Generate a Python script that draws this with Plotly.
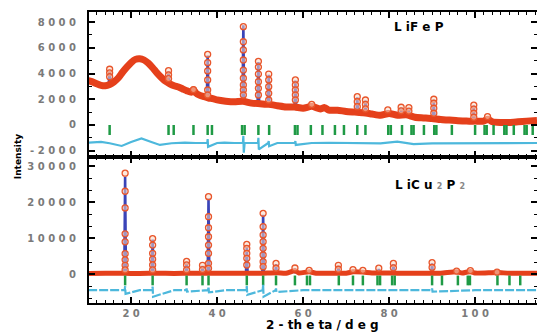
import plotly.graph_objects as go

# ---------------- data ----------------
# Upper panel (LiFeP): observed background band
top_bg_x = [10, 11, 12, 13, 14, 15, 16, 17, 18, 19, 20, 21, 22, 23, 24, 25, 26, 27, 28, 29,
            30, 31, 32, 33, 34, 34.5, 35, 36, 37, 38, 39, 40, 42, 44, 46, 48, 50, 52, 54, 56,
            58, 60, 62, 64, 65, 66, 68, 70, 72, 74, 76, 78, 80, 82, 84, 86, 88, 90, 92, 94,
            96, 98, 100, 102, 103, 104, 106, 108, 110, 112, 114.4]
top_bg_y = [3450, 3350, 3200, 3080, 3050, 3150, 3350, 3650, 4100, 4500, 4850, 5100, 5150, 5050, 4800, 4450, 4050, 3700, 3400, 3200,
            3050, 2950, 2800, 2650, 2550, 2750, 2500, 2300, 2200, 2100, 2050, 1950, 1850, 1800, 1850, 1700, 1650, 1600, 1500, 1400,
            1400, 1300, 1450, 1250, 1350, 1150, 1150, 1050, 1000, 950, 850, 750, 900, 750, 800, 600, 550, 500, 420, 380,
            330, 300, 300, 300, 450, 250, 200, 200, 250, 300, 350]

# Upper panel Bragg peaks: position, base, calculated top, observed points on the peak
top_pk_x = [15.0, 28.7, 34.5, 37.8, 46.1, 49.6, 52.0, 58.2, 62.0, 72.6, 74.5, 79.7, 82.8, 84.6, 90.4, 99.7, 102.9]
top_pk_base = [3250, 3350, 2550, 2100, 1850, 1650, 1600, 1400, 1350, 950, 900, 800, 750, 800, 520, 300, 450]
top_pk_calc = [4250, 4150, 2700, 5400, 7750, 4900, 3900, 3450, 1550, 2150, 1900, 1150, 1350, 1300, 1950, 1500, 620]
top_pk_obs = [[4330, 4050, 3750], [4220, 3900, 3600], [2750],
              [5490, 4840, 4200, 3500, 2720, 2330],
              [7640, 6470, 5830, 5050, 4270, 3630, 3110, 2720, 2330],
              [4950, 4500, 3960, 3360, 2850, 2330],
              [3960, 3500, 2980, 2460, 1940],
              [3500, 3110, 2720, 2330, 1940],
              [1600], [2200, 1810, 1420], [1940, 1600, 1250], [1170],
              [1380, 1100], [1350, 1080], [2000, 1690, 1300, 910],
              [1550, 1240, 910, 600], [650]]

# Upper panel difference curve
top_diff_x = [10, 12, 13, 15, 17.8, 20, 22.4, 24.7, 26.7, 29.4, 32.5, 35, 37.7, 37.8, 37.9, 40, 41.7, 44,
              46.0, 46.1, 46.2, 46.4, 48, 49.5, 49.6, 49.7, 51.9, 52.0, 52.1, 54, 58.1, 58.2, 58.3,
              62, 66, 70, 74, 78, 81.9, 84, 85.7, 90, 95, 100, 105, 110, 114.4]
top_diff_y = [-1375, -1330, -1320, -1420, -1630, -1320, -1040, -1320, -1550, -1420, -1375, -1400, -1400, -1100, -1700, -1400, -1375, -1400,
              -1400, -850, -2150, -1400, -1400, -1400, -1000, -1900, -1400, -1250, -1650, -1400, -1400, -1250, -1550,
              -1400, -1380, -1400, -1400, -1430, -1300, -1400, -1480, -1430, -1430, -1400, -1430, -1420, -1400]

# Upper panel reflection markers
top_refl = [15.0, 28.7, 29.9, 34.5, 37.8, 38.8, 45.8, 46.4, 49.6, 52.1, 58.1, 58.7, 61.8, 64.5, 67.4, 69.5,
            72.6, 74.5, 79.8, 80.4, 83.0, 85.2, 85.7, 88.1, 90.5, 91.0, 94.6, 100.0, 102.2, 102.7, 104.3,
            106.8, 107.3, 109.0, 111.5, 112.0, 113.4]

# Lower panel (LiCu2P2)
bot_bg_x = [10, 14, 17, 20, 22, 26, 30, 34, 42, 46, 50, 54, 56, 58.1, 59, 61.4, 63, 66, 70, 71.6, 73.9,
            76, 80, 84, 88, 92, 95.7, 97, 98.9, 100, 105.1, 108, 114.4]
bot_bg_y = [250, 300, 300, 250, 250, 300, 250, 300, 300, 300, 300, 450, 300, 1000, 350, 700, 300, 300, 300, 700, 600,
            350, 350, 300, 300, 300, 700, 350, 800, 350, 500, 300, 300]

bot_pk_x = [18.6, 25.0, 32.9, 36.6, 38.0, 46.9, 50.7, 53.7, 58.1, 61.4, 68.2, 71.6, 73.9, 77.6, 81.0, 90.0, 95.7, 98.9, 105.1]
bot_pk_base = [250, 250, 250, 250, 250, 250, 250, 300, 300, 300, 300, 300, 300, 300, 300, 300, 300, 300, 300]
bot_pk_calc = [27000, 9600, 3400, 2300, 21000, 8000, 16500, 2800, 1600, 1000, 2300, 1200, 1000, 1500, 2800, 3000, 800, 900, 550]
bot_pk_obs = [[28000, 23000, 18400, 11200, 9000, 5700, 4000, 2500, 1200],
              [9900, 8100, 5800, 4200, 2600, 1200],
              [3600, 2600, 1200], [2500, 1300],
              [21500, 15950, 12900, 10400, 8100, 5800, 3050, 1660],
              [8300, 7200, 5800, 4430, 2580],
              [16900, 13200, 10900, 9030, 7200, 5350, 3490, 2100],
              [3000, 1700], [1750], [1100], [2500, 1400], [1300], [1100], [1700],
              [3000, 1800], [3250, 1900], [900], [1000], [600]]

bot_diff_x = [10, 14, 18.5, 18.6, 18.7, 22, 24.9, 25.0, 25.1, 30, 32.8, 32.9, 33, 37.9, 38.0, 38.1, 42,
              46.8, 46.9, 47.0, 50.6, 50.7, 50.8, 53.6, 53.7, 53.8, 60, 70, 80, 89.9, 90.0, 90.1, 100, 114.4]
bot_diff_y = [-4400, -4400, -4400, -3300, -5400, -4400, -4400, -3400, -6200, -4400, -4400, -3900, -4800, -4400, -3400, -5000, -4400,
              -4400, -3250, -5700, -4400, -2900, -6200, -4400, -3900, -4900, -4400, -4400, -4400, -4400, -3900, -4800, -4400, -4400]

bot_refl = [18.6, 25.0, 32.9, 36.6, 38.0, 46.9, 50.7, 53.7, 58.1, 60.9, 61.6, 68.3, 71.6, 73.9, 77.3, 77.9,
            80.7, 81.3, 90.0, 92.3, 96.0, 98.3, 98.8, 105.2, 108.0, 110.5]

top_yticks = [-2000, 0, 2000, 4000, 6000, 8000]
bot_yticks = [0, 10000, 20000, 30000]
x_ticks = [20, 40, 60, 80, 100]


def spaced(v):
    return " ".join(str(v))


# ---------------- styles ----------------
RED = "#e5401b"
BLUE = "#3a44b8"
CYAN = "#4db8dc"
GREEN = "#1f9a45"
TOP_TICK_LEVEL = -390
BOT_TICK_LEVEL = -1700
X_RANGE = [10.2, 114.4]
TOP_RANGE = [-2450, 8780]
BOT_RANGE = [-7950, 32630]

fig = go.Figure()


def add_panel(xa, ya, bg_x, bg_y, pk_x, pk_base, pk_calc, pk_obs, d_x, d_y, refl, tick_level, band_w, dash):
    cx, cy = [], []
    for p, b, c in zip(pk_x, pk_base, pk_calc):
        cx += [p - 0.18, p, p + 0.18, None]
        cy += [b, c, b, None]
    fig.add_trace(go.Scatter(x=cx, y=cy, mode="lines", line=dict(color=BLUE, width=2.6),
                             xaxis=xa, yaxis=ya, hoverinfo="skip"))
    fig.add_trace(go.Scatter(x=bg_x, y=bg_y, mode="lines",
                             line=dict(color=RED, width=band_w, shape="spline", smoothing=0.6),
                             xaxis=xa, yaxis=ya))
    ox, oy = [], []
    for p, vals in zip(pk_x, pk_obs):
        for v in vals:
            ox.append(p)
            oy.append(v)
    fig.add_trace(go.Scatter(x=ox, y=oy, mode="markers",
                             marker=dict(symbol="circle", size=6, color="rgba(250,215,195,0.55)",
                                         line=dict(color="#e8562c", width=1.3)),
                             xaxis=xa, yaxis=ya))
    fig.add_trace(go.Scatter(x=refl, y=[tick_level] * len(refl), mode="markers",
                             marker=dict(symbol="line-ns", size=7, line=dict(color=GREEN, width=2.5)),
                             xaxis=xa, yaxis=ya))
    fig.add_trace(go.Scatter(x=d_x, y=d_y, mode="lines", line=dict(color=CYAN, width=2.2, dash=dash),
                             xaxis=xa, yaxis=ya))


add_panel("x", "y", top_bg_x, top_bg_y, top_pk_x, top_pk_base, top_pk_calc, top_pk_obs,
          top_diff_x, top_diff_y, top_refl, TOP_TICK_LEVEL, 7, "solid")
add_panel("x2", "y2", bot_bg_x, bot_bg_y, bot_pk_x, bot_pk_base, bot_pk_calc, bot_pk_obs,
          bot_diff_x, bot_diff_y, bot_refl, BOT_TICK_LEVEL, 5, "9px,2px")


def minor_vals(lo, hi, step):
    out = []
    k = int(lo // step)
    while k * step <= hi:
        out.append(k * step)
        k += 1
    return out


tickfont = dict(family="DejaVu Sans", size=10, color="#7a7a7a", weight="bold")
common_axis = dict(showline=True, linewidth=2, linecolor="black", mirror="allticks",
                   ticks="inside", ticklen=6, tickwidth=1.5, tickcolor="black",
                   showgrid=False, zeroline=False, tickfont=tickfont)


def minor(vals):
    return dict(tickmode="array", tickvals=vals, ticks="inside", ticklen=3, tickwidth=1,
                tickcolor="black", showgrid=False)


split = 0.5034
fig.update_layout(
    width=537, height=333,
    margin=dict(l=89, r=0, t=12, b=30, autoexpand=False),
    plot_bgcolor="white", paper_bgcolor="white",
    showlegend=False,
    xaxis=dict(domain=[0, 1], anchor="y", range=X_RANGE, showticklabels=False,
               tickmode="array", tickvals=x_ticks, minor=minor(minor_vals(10, 114, 2)),
               **common_axis),
    yaxis=dict(domain=[split, 1], anchor="x", range=TOP_RANGE,
               tickmode="array", tickvals=top_yticks, ticktext=[spaced(v) for v in top_yticks],
               ticklabelstandoff=9, minor=minor(minor_vals(-2000, 8000, 1000)),
               **common_axis),
    xaxis2=dict(domain=[0, 1], anchor="y2", range=X_RANGE,
                tickmode="array", tickvals=x_ticks, ticktext=[spaced(v) for v in x_ticks],
                minor=minor(minor_vals(10, 114, 2)),
                **common_axis),
    yaxis2=dict(domain=[0, split], anchor="x2", range=BOT_RANGE,
                tickmode="array", tickvals=bot_yticks, ticktext=[spaced(v) for v in bot_yticks],
                ticklabelstandoff=9, minor=minor(minor_vals(-6666.67, 32000, 10000 / 3)),
                **common_axis),
)

fig.add_annotation(text="L iF e P", xref="paper", yref="paper", x=0.676, y=0.948,
                   xanchor="left", yanchor="middle", showarrow=False,
                   font=dict(family="DejaVu Sans", size=12, color="black", weight="bold"))
fig.add_annotation(text="L iC u <span style='font-size:8px;color:#888'>2</span> P <span style='font-size:8px;color:#888'>2</span>",
                   xref="paper", yref="paper", x=0.679, y=0.405,
                   xanchor="left", yanchor="middle", showarrow=False,
                   font=dict(family="DejaVu Sans", size=12, color="black", weight="bold"))
fig.add_annotation(text="2 - th e ta / d e g", xref="paper", yref="paper", x=0.522, y=-0.0756,
                   xanchor="center", yanchor="middle", showarrow=False,
                   font=dict(family="DejaVu Sans", size=12, color="black", weight="bold"))
fig.add_annotation(text="Intensity", xref="paper", yref="paper", x=-0.158, y=0.502,
                   xanchor="center", yanchor="middle", textangle=-90, showarrow=False,
                   font=dict(family="DejaVu Sans", size=9, color="black", weight="bold"))

fig.write_html("out.html", config={"displayModeBar": False},
               post_script="document.body.style.margin='0';document.body.style.overflow='hidden';")
